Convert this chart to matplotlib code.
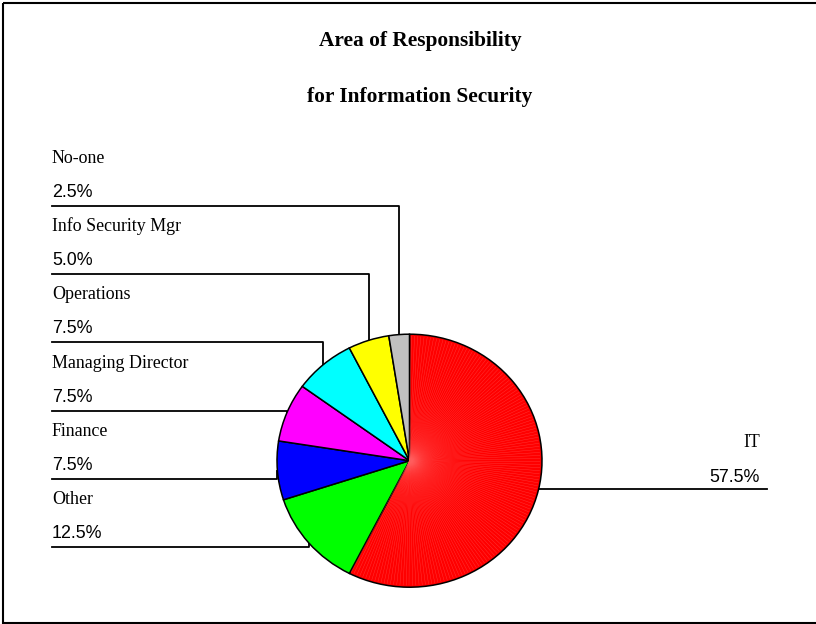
import matplotlib.pyplot as plt
import numpy as np
from matplotlib.patches import Rectangle

# share of respondents by who is responsible for information security
categories = ["IT", "Other", "Finance", "Managing Director", "Operations",
              "Info Security Mgr", "No-one"]
shares = [57.5, 12.5, 7.5, 7.5, 7.5, 5.0, 2.5]
colors = ["#ff0000", "#00ff00", "#0000ff", "#ff00ff", "#00ffff", "#ffff00", "#c0c0c0"]
title_lines = ["Area of Responsibility", "for Information Security"]

W, H = 816, 624
fig = plt.figure(figsize=(W / 100, H / 100), dpi=100)

# overlay axes working in pixel units, y downwards
ov = fig.add_axes([0, 0, 1, 1])
ov.set_xlim(0, W)
ov.set_ylim(H, 0)
ov.axis("off")

# pie sits in its own (slightly wider than tall) box
cx, cy, rx, ry = 409.5, 460.7, 132.5, 126.5
pa = fig.add_axes([(cx - rx) / W, (H - cy - ry) / H, 2 * rx / W, 2 * ry / H])
wedges, _ = pa.pie(shares, colors=colors, startangle=90, counterclock=False,
                   wedgeprops=dict(edgecolor="black", linewidth=1.1))
pa.set_aspect("auto")
pa.set_xlim(-1, 1)
pa.set_ylim(-1, 1)
pa.axis("off")

# the big slice is filled as a fan of thin strips, which shows as light streaks
a0 = 90
a1 = 90 - 360 * shares[0] / 100
for a in np.deg2rad(np.arange(a0 - 0.8, a1, -1.4)):
    c, s = np.cos(a), np.sin(a)
    pa.plot([0, 0.985 * c], [0, 0.985 * s],
            color="#ff6060", lw=0.3, alpha=0.6, zorder=1.5)

# anchor point on the rim at the middle of each slice, in overlay pixels
cum = np.cumsum([0] + shares[:-1])
mid = np.deg2rad(90 - 360 * (cum + np.array(shares) / 2) / 100)
to_px = pa.transData + ov.transData.inverted()
anchors = to_px.transform(np.column_stack([np.cos(mid), np.sin(mid)]))

serif = "Liberation Serif"
sans = "Liberation Sans"

# titles
ov.text(420, 46, title_lines[0], ha="center", va="baseline", fontsize=15.4,
        fontweight="bold", family=serif)
ov.text(420, 102, title_lines[1], ha="center", va="baseline", fontsize=15.4,
        fontweight="bold", family=serif)

# left-hand labels, stacked from the smallest slice down
left_x = 52
for k, i in enumerate(range(len(categories) - 1, 0, -1)):
    line_y = 206 + 68.2 * k
    ax_, ay_ = anchors[i]
    ov.text(left_x, line_y - 43, categories[i], ha="left", va="baseline",
            fontsize=12.9, family=serif)
    ov.text(left_x, line_y - 9, f"{shares[i]:.1f}%", ha="left", va="baseline",
            fontsize=12.9, family=sans)
    ov.plot([left_x, ax_, ax_], [line_y, line_y, ay_], color="black", lw=1.3)

# IT label on the right
ax_, ay_ = anchors[0]
ov.text(760, 447, categories[0], ha="right", va="baseline", fontsize=12.9, family=serif)
ov.text(760, 482, f"{shares[0]:.1f}%", ha="right", va="baseline", fontsize=12.9, family=sans)
ov.plot([ax_, ax_, 767], [ay_, 489, 489], color="black", lw=1.3)

# frame round the chart
ov.add_patch(Rectangle((3, 3), W + 10, 619.8, fill=False, edgecolor="black",
                       lw=1.5, clip_on=False))

fig.savefig("out.png", dpi=100)
